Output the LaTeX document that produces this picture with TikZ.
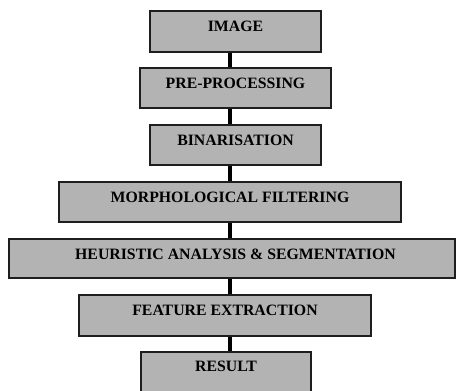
\documentclass[tikz,border=0pt]{standalone}
\usepackage{fontspec}
\setmainfont{Liberation Serif}
\definecolor{boxfill}{RGB}{179,179,179}
\definecolor{boxline}{RGB}{30,30,30}
\begin{document}
\begin{tikzpicture}[x=1pt,y=-1pt,
  stage/.style={draw=boxline, line width=1.5pt, fill=boxfill, rectangle, inner sep=0pt},
  lbl/.style={font=\fontsize{15.8}{18}\selectfont\bfseries, inner sep=0pt, text=black},
  link/.style={line width=3.5pt, black}]
\useasboundingbox (0,0) rectangle (456,391);
\clip (0,0) rectangle (456,391);
\coordinate (axis) at (230,0);
% boxes
\node[stage, minimum width=171pt, minimum height=41pt] (img) at (235.5,31.5) {};
\node[stage, minimum width=191pt, minimum height=40pt] (pre) at (235.5,88) {};
\node[stage, minimum width=171pt, minimum height=40pt] (bin) at (235.5,145) {};
\node[stage, minimum width=342pt, minimum height=40pt] (mor) at (230,202) {};
\node[stage, minimum width=446pt, minimum height=39pt] (heu) at (232,258.5) {};
\node[stage, minimum width=292pt, minimum height=41pt] (fea) at (225,315.5) {};
\node[stage, minimum width=170pt, minimum height=44pt] (res) at (226,374) {};
% labels
\path (img.north) ++(0,16.5) node[lbl] (timg) {IMAGE};
\path (pre.north) ++(0,16) node[lbl] (tpre) {PRE-PROCESSING};
\path (bin.north) ++(0,16) node[lbl] (tbin) {BINARISATION};
\path (mor.north) ++(0,16) node[lbl] (tmor) {MORPHOLOGICAL FILTERING};
\path (heu.north) ++(3.5,16) node[lbl] (theu) {HEURISTIC ANALYSIS \& SEGMENTATION};
\path (fea.north) ++(0,16) node[lbl] (tfea) {FEATURE EXTRACTION};
\path (res.north) ++(0,15.5) node[lbl] (tres) {RESULT};
% connectors
\draw[link] (img.south -| axis) -- (pre.north -| axis);
\draw[link] (pre.south -| axis) -- (bin.north -| axis);
\draw[link] (bin.south -| axis) -- (mor.north -| axis);
\draw[link] (mor.south -| axis) -- (heu.north -| axis);
\draw[link] (heu.south -| axis) -- (fea.north -| axis);
\draw[link] (fea.south -| axis) -- (res.north -| axis);
\end{tikzpicture}
\end{document}
